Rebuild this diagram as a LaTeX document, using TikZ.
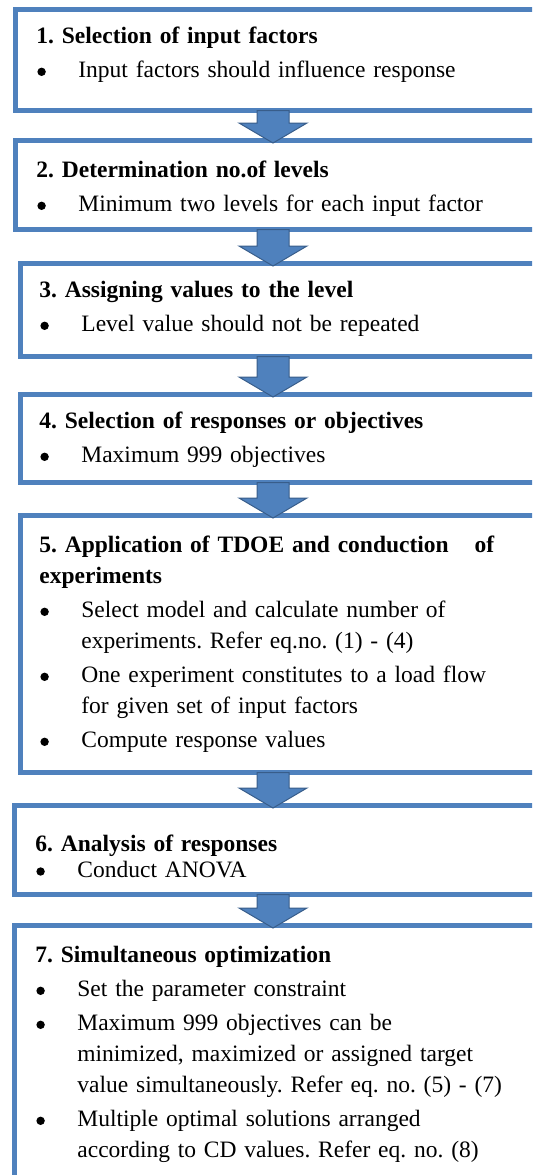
\documentclass[tikz,border=0pt]{standalone}
\usepackage{fontspec}
\setmainfont{Liberation Serif}
\usepackage{tikz}
\usetikzlibrary{calc}
\definecolor{boxblue}{RGB}{79,129,189}
\definecolor{arrowline}{RGB}{56,93,138}
\newcommand{\stagehead}[1]{\setlength{\parskip}{1.5pt}\frenchspacing\noindent\strut\textbf{#1}\par}
\newcommand{\bul}[1]{\hangindent=21pt\hangafter=1\noindent
  \hbox to 21pt{\hskip0.5pt\tikz[baseline=0pt]\fill[black] (2.5pt,2.8pt) circle[radius=2.1pt];\hfil}#1\par}

\begin{document}
\begin{tikzpicture}[x=0.5pt,y=-0.5pt,
  stagebox/.style={rectangle,draw=boxblue,line width=2.5pt,inner sep=0pt,outer sep=0pt,anchor=north west,minimum width=258.5pt},
  stagetext/.style={anchor=north west,inner sep=0pt,text width=255pt,align=left,font=\fontsize{11.75}{15.5}\selectfont},
  blockarrow/.style={fill=boxblue,draw=arrowline,line width=0.5pt,line join=miter,
    to path={($(\tikztostart)+(-16,0)$) -- ($(\tikztotarget)+(-16,-17.5)$) -- ($(\tikztotarget)+(-34,-17.5)$)
      -- ($(\tikztotarget)+(0,2.5)$) -- ($(\tikztotarget)+(34,-17.5)$) -- ($(\tikztotarget)+(16,-17.5)$)
      -- ($(\tikztostart)+(16,0)$) -- cycle}}]
\useasboundingbox (0,0) rectangle (532,1175);
\clip (0,0) rectangle (532,1175);
% Boxes
\node at (15.5,9.5) [stagebox,minimum width=260.75pt,minimum height=50.5pt] (Box1) {};
\node at (15.5,140.5) [stagebox,minimum width=260.75pt,minimum height=44.5pt] (Box2) {};
\node at (20,263.5) [stagebox,minimum height=46.5pt] (Box3) {};
\node at (20,394.5) [stagebox,minimum height=44pt] (Box4) {};
\node at (20,515.5) [stagebox,minimum height=128.5pt] (Box5) {};
\node at (14.5,805.5) [stagebox,minimum width=261.25pt,minimum height=44.5pt] (Box6) {};
\node at (14.5,925.5) [stagebox,minimum width=261.25pt,minimum height=137.25pt] (Box7) {};
% Box Texts
\node at (36,21.3) [stagetext] (Text1) {\stagehead{1. Selection of input factors}
  \bul{Input factors should influence response}};
\node at (36,155.3) [stagetext] (Text2) {\stagehead{2. Determination no.of levels}
  \bul{Minimum two levels for each input factor}};
\node at (39,275.3) [stagetext] (Text3) {\stagehead{3. Assigning values to the level}
  \bul{Level value should not be repeated}};
\node at (39,406.3) [stagetext] (Text4) {\stagehead{4. Selection of responses or objectives}
  \bul{Maximum 999 objectives}};
\node at (39,530.3) [stagetext] (Text5) {\stagehead{5. Application of TDOE and conduction\hspace{13pt}of\newline experiments}
  \bul{Select model and calculate number of\newline experiments. Refer eq.no. (1) - (4)}
  \bul{One experiment constitutes to a load flow\newline for given set of input factors}
  \bul{Compute response values}};
\node at (35,829) [stagetext] (Text6) {\setlength{\parskip}{-2.5pt}\frenchspacing\noindent\strut\textbf{6. Analysis of responses}\par
  \bul{Conduct ANOVA}};
\node at (35,940.3) [stagetext] (Text7) {\stagehead{7. Simultaneous optimization}
  \bul{Set the parameter constraint}
  \bul{Maximum 999 objectives can be\newline minimized, maximized or assigned target\newline value simultaneously. Refer eq. no. (5) - (7)}
  \bul{Multiple optimal solutions arranged\newline according to CD values. Refer eq. no. (8)}};
% Arrows
\coordinate (Axis) at (273,0);
\draw [blockarrow] (Box1.south -| Axis) to (Box2.north -| Axis);
\draw [blockarrow] (Box2.south -| Axis) to (Box3.north -| Axis);
\draw [blockarrow] (Box3.south -| Axis) to (Box4.north -| Axis);
\draw [blockarrow] (Box4.south -| Axis) to (Box5.north -| Axis);
\draw [blockarrow] (Box5.south -| Axis) to (Box6.north -| Axis);
\draw [blockarrow] (Box6.south -| Axis) to (Box7.north -| Axis);
\end{tikzpicture}
\end{document}
